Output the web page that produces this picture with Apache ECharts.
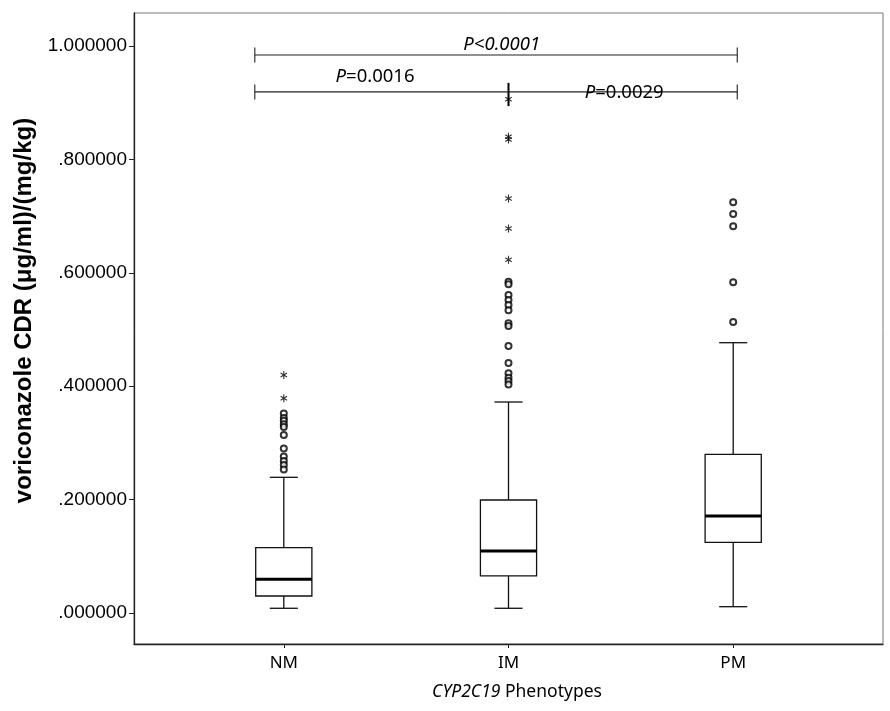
<!DOCTYPE html>
<html><head><meta charset="utf-8">
<script src="https://cdn.jsdelivr.net/npm/echarts@6/dist/echarts.min.js"></script>
<style>html,body{margin:0;padding:0;background:#fff}#c{width:890px;height:711px}</style>
</head><body><div id="c"></div>
<script>
// ---- data ----
const categories = ['NM', 'IM', 'PM'];
const boxLow    = [0.0083, 0.0083, 0.0111];
const boxQ1     = [0.0300, 0.0653, 0.1247];
const boxMedian = [0.0594, 0.1093, 0.1711];
const boxQ3     = [0.1152, 0.1993, 0.2799];
const boxHigh   = [0.2393, 0.3721, 0.4767];

const nmCircles = [0.352, 0.344, 0.339, 0.333, 0.328, 0.314, 0.290, 0.276, 0.268, 0.261, 0.253];
const nmStars   = [0.4197, 0.3786];
const imCircles = [0.584, 0.580, 0.561, 0.552, 0.543, 0.534, 0.511, 0.506, 0.471, 0.441, 0.423, 0.415, 0.409, 0.403];
const imStars   = [0.906, 0.840, 0.835, 0.731, 0.678, 0.623];
const pmCircles = [0.7243, 0.7037, 0.682, 0.5832, 0.5132];
const pmStars   = [];

const yTicks = [0, 0.2, 0.4, 0.6, 0.8, 1.0];

// significance brackets
const bracketStart = [0.871, 0.871];
const bracketEnd   = [3.018, 3.018];
const bracketLevel = [0.984, 0.919];
const midTickX = 2;
const midTickTop = 0.935;
const midTickBottom = 0.894;
const pLabels = ['{i|P<0.0001}', '{i|P}{n|=0.0016}', '{i|P}{n|=0.0029}'];
const pLabelX = [1.97, 1.406, 2.515];
const pLabelY = [1.0018, 0.9459, 0.9175];

// ---- build ----
const outlierCircleData = [];
const outlierStarData = [];
[[nmCircles, nmStars], [imCircles, imStars], [pmCircles, pmStars]].forEach((g, i) => {
  g[0].forEach(v => outlierCircleData.push([i + 1, v]));
  g[1].forEach(v => outlierStarData.push([i + 1, v]));
});
const boxData = categories.map((c, i) => [i + 1, boxLow[i], boxQ1[i], boxMedian[i], boxQ3[i], boxHigh[i]]);

function asteriskPath() {
  const L = 5, W = 0.75;
  let d = '';
  [90, 30, 150].forEach(a => {
    const r = a * Math.PI / 180, c = Math.cos(r), s = Math.sin(r);
    const ux = L * c, uy = L * s, nx = -W * s, ny = W * c;
    const p = [[ux + nx, uy + ny], [ux - nx, uy - ny], [-ux - nx, -uy - ny], [-ux + nx, -uy + ny]];
    d += 'M' + p.map(q => q[0].toFixed(3) + ',' + q[1].toFixed(3)).join(' L') + ' Z ';
  });
  return 'path://' + d;
}

const LINE = '#111';
const chart = echarts.init(document.getElementById('c'), null, {renderer: 'canvas'});
chart.setOption({
  animation: false,
  backgroundColor: '#fff',
  grid: {left: 134, right: 7, top: 13, bottom: 67, show: true, borderColor: '#777', borderWidth: 1},
  xAxis: {
    type: 'value', min: 1 / 3, max: 11 / 3,
    splitLine: {show: false},
    axisLine: {onZero: false, lineStyle: {color: '#222', width: 1.3}},
    axisTick: {show: true, customValues: [1, 2, 3], length: 4, lineStyle: {color: '#222'}},
    axisLabel: {customValues: [1, 2, 3], formatter: v => categories[Math.round(v) - 1],
      fontFamily: 'Noto Sans', fontSize: 17, color: '#000', margin: 11},
    name: '{i|CYP2C19} Phenotypes', nameLocation: 'middle', nameGap: 39,
    nameTextStyle: {fontFamily: 'Noto Sans', fontSize: 17.5, color: '#000', padding: [0, 0, 0, 17],
      rich: {i: {fontStyle: 'italic', fontFamily: 'Noto Sans', fontSize: 17.5, color: '#000'}}}
  },
  yAxis: {
    type: 'value', min: -0.0547, max: 1.0582,
    splitLine: {show: false},
    axisLine: {onZero: false, lineStyle: {color: '#222', width: 1.3}},
    axisTick: {show: true, customValues: yTicks, length: 5, lineStyle: {color: '#222'}},
    axisLabel: {customValues: yTicks, fontFamily: 'Liberation Sans', fontSize: 19, color: '#000', margin: 7,
      formatter: v => { const s = (+v).toFixed(6); return v >= 1 ? s : s.replace(/^0/, ''); }},
    name: 'voriconazole CDR (μg/ml)/(mg/kg)', nameLocation: 'middle', nameGap: 95,
    nameTextStyle: {fontFamily: 'Liberation Sans', fontWeight: 'bold', fontSize: 24, color: '#000',
      padding: [0, 0, 0, 36]}
  },
  series: [
    {
      type: 'custom', name: 'box', data: boxData, encode: {x: 0, y: [1, 2, 3, 4, 5]},
      renderItem: (params, api) => {
        const x = api.value(0);
        const pl = api.coord([x, api.value(1)]);
        const p1 = api.coord([x, api.value(2)]);
        const pm = api.coord([x, api.value(3)]);
        const p3 = api.coord([x, api.value(4)]);
        const ph = api.coord([x, api.value(5)]);
        const hw = api.size([0.25, 0])[0] / 2;
        const cw = hw / 2;
        const st = {stroke: LINE, lineWidth: 1.3, fill: null};
        return {type: 'group', children: [
          {type: 'line', shape: {x1: ph[0], y1: ph[1], x2: p3[0], y2: p3[1]}, style: st},
          {type: 'line', shape: {x1: pl[0], y1: pl[1], x2: p1[0], y2: p1[1]}, style: st},
          {type: 'line', shape: {x1: ph[0] - cw, y1: ph[1], x2: ph[0] + cw, y2: ph[1]}, style: st},
          {type: 'line', shape: {x1: pl[0] - cw, y1: pl[1], x2: pl[0] + cw, y2: pl[1]}, style: st},
          {type: 'rect', shape: {x: p3[0] - hw, y: p3[1], width: hw * 2, height: p1[1] - p3[1]},
            style: {stroke: LINE, lineWidth: 1.3, fill: '#fff'}},
          {type: 'line', shape: {x1: pm[0] - hw, y1: pm[1], x2: pm[0] + hw, y2: pm[1]},
            style: {stroke: '#000', lineWidth: 3}}
        ]};
      }
    },
    {
      type: 'scatter', name: 'outliers', data: outlierCircleData, symbol: 'emptyCircle', symbolSize: 6,
      itemStyle: {color: '#000', borderWidth: 0.9}
    },
    {
      type: 'scatter', name: 'extremes', data: outlierStarData, symbol: asteriskPath(), symbolSize: [7, 8],
      itemStyle: {color: '#000'}
    },
    {
      type: 'custom', name: 'brackets',
      data: bracketStart.map((s, i) => [s, bracketEnd[i], bracketLevel[i]]),
      encode: {x: [0, 1], y: 2},
      renderItem: (params, api) => {
        const a = api.coord([api.value(0), api.value(2)]);
        const b = api.coord([api.value(1), api.value(2)]);
        const st = {stroke: '#222', lineWidth: 1.1};
        const ch = [
          {type: 'line', shape: {x1: a[0], y1: a[1], x2: b[0], y2: b[1]}, style: st},
          {type: 'line', shape: {x1: a[0], y1: a[1] - 7.5, x2: a[0], y2: a[1] + 7.5}, style: st},
          {type: 'line', shape: {x1: b[0], y1: b[1] - 7.5, x2: b[0], y2: b[1] + 7.5}, style: st}
        ];
        if (params.dataIndex === 1) {
          const t = api.coord([midTickX, midTickTop]);
          const u = api.coord([midTickX, midTickBottom]);
          ch.push({type: 'line', shape: {x1: t[0], y1: t[1], x2: u[0], y2: u[1]}, style: {stroke: '#000', lineWidth: 2}});
        }
        return {type: 'group', children: ch};
      }
    },
    {
      type: 'custom', name: 'pvalues',
      data: pLabelX.map((x, i) => [x, pLabelY[i], i]),
      encode: {x: 0, y: 1},
      renderItem: (params, api) => {
        const p = api.coord([api.value(0), api.value(1)]);
        return {type: 'text', x: p[0], y: p[1], style: {
          text: pLabels[api.value(2)], align: 'center', verticalAlign: 'middle',
          fontFamily: 'Noto Sans', fontSize: 18.5, fill: '#000',
          rich: {
            i: {fontStyle: 'italic', fontFamily: 'Noto Sans', fontSize: 18.5, fill: '#000', color: '#000'},
            n: {fontFamily: 'Noto Sans', fontSize: 18.5, fill: '#000', color: '#000'}
          }
        }};
      }
    }
  ]
});
</script>
</body></html>
